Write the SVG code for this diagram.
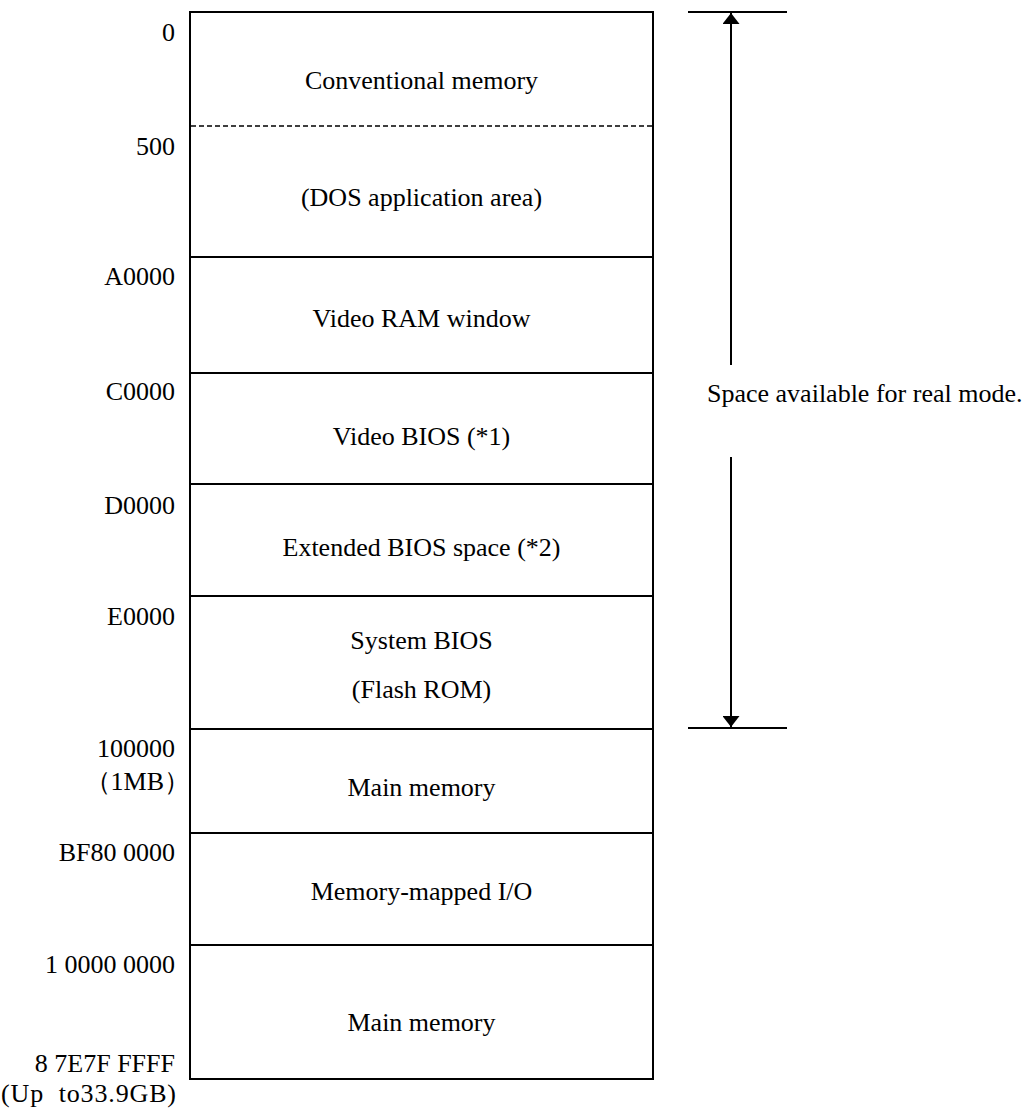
<svg xmlns="http://www.w3.org/2000/svg" width="1035" height="1113" viewBox="0 0 1035 1113">
<style>
text { font-family: "Liberation Serif", "Times New Roman", serif; font-size: 26px; fill: #000; }
.c { text-anchor: middle; }
.r { text-anchor: end; }
.box { fill: #fff; stroke: #000; stroke-width: 2; }
.ln { stroke: #000; stroke-width: 2; fill: none; }
.dash { stroke: #000; stroke-width: 1.4; stroke-dasharray: 5 3; fill: none; }
</style>
<defs>
<marker id="ah" viewBox="0 0 10 10" refX="10" refY="5" markerWidth="11" markerHeight="17" markerUnits="userSpaceOnUse" orient="auto-start-reverse" preserveAspectRatio="none">
<path d="M0,0 L10,5 L0,10 Z" fill="#000"/>
</marker>
</defs>
<rect width="1035" height="1113" fill="#fff"/>

<g id="conventional">
<rect class="box" x="190" y="12" width="463" height="245"/>
<line class="dash" x1="191" y1="126" x2="652" y2="126"/>
<text class="c" x="421.5" y="89">Conventional memory</text>
<text class="c" x="421.5" y="206">(DOS application area)</text>
<text class="r" x="175" y="41">0</text>
<text class="r" x="175" y="155">500</text>
</g>

<g id="video-ram">
<rect class="box" x="190" y="257" width="463" height="116"/>
<text class="c" x="421.5" y="327">Video RAM window</text>
<text class="r" x="175" y="285">A0000</text>
</g>

<g id="video-bios">
<rect class="box" x="190" y="373" width="463" height="111"/>
<text class="c" x="421.5" y="445">Video BIOS (*1)</text>
<text class="r" x="175" y="400">C0000</text>
</g>

<g id="ext-bios">
<rect class="box" x="190" y="484" width="463" height="112"/>
<text class="c" x="421.5" y="556">Extended BIOS space (*2)</text>
<text class="r" x="175" y="514">D0000</text>
</g>

<g id="system-bios">
<rect class="box" x="190" y="596" width="463" height="133"/>
<text class="c" x="421.5" y="649">System BIOS</text>
<text class="c" x="421.5" y="698">(Flash ROM)</text>
<text class="r" x="175" y="625">E0000</text>
</g>

<g id="main-memory-1">
<rect class="box" x="190" y="729" width="463" height="104"/>
<text class="c" x="421.5" y="796">Main memory</text>
<text class="r" x="175" y="757">100000</text>
<text class="r" x="190" y="790">（1MB）</text>
</g>

<g id="mmio">
<rect class="box" x="190" y="833" width="463" height="112"/>
<text class="c" x="421.5" y="900">Memory-mapped I/O</text>
<text class="r" x="175" y="861">BF80 0000</text>
</g>

<g id="main-memory-2">
<rect class="box" x="190" y="945" width="463" height="134"/>
<text class="c" x="421.5" y="1031">Main memory</text>
<text class="r" x="175" y="973">1 0000 0000</text>
<text class="r" x="175" y="1072">8 7E7F FFFF</text>
<text x="1" y="1102" textLength="175" lengthAdjust="spacing" xml:space="preserve">(Up  to33.9GB)</text>
</g>

<g id="connectors">
<line class="ln" x1="688" y1="12" x2="787" y2="12"/>
<line class="ln" x1="688" y1="728" x2="787" y2="728"/>
<line class="ln" x1="731" y1="365" x2="731" y2="13" marker-end="url(#ah)"/>
<line class="ln" x1="731" y1="457" x2="731" y2="727" marker-end="url(#ah)"/>
</g>

<g id="real-mode-label">
<text x="707" y="402">Space available for real mode.</text>
</g>
</svg>
